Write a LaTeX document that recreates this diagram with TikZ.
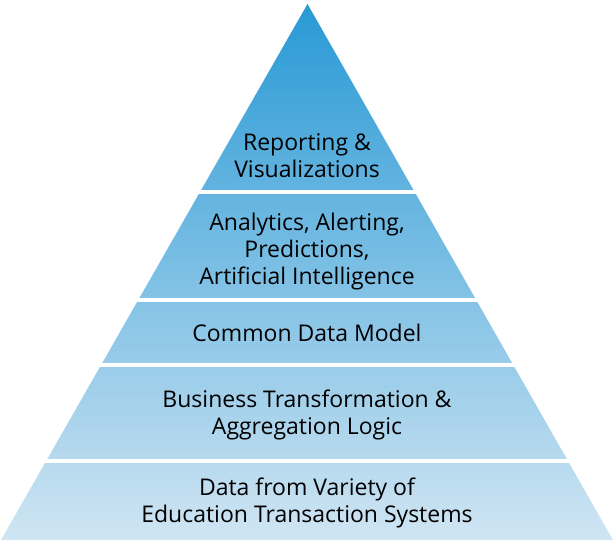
\documentclass[tikz,border=0pt]{standalone}
\usepackage{fontspec}
\setmainfont{Open Sans}
\definecolor{ctop}{RGB}{40,153,213}
\definecolor{cmid}{RGB}{164,210,235}
\definecolor{cbot}{RGB}{208,229,243}
\tikzset{
  lbl/.style={align=center, text=black, font=\fontsize{23}{27}\selectfont, inner sep=0pt},
  gap/.style={fill=white, draw=none}
}
\begin{document}
\begin{tikzpicture}[x=1pt,y=-1pt]
\useasboundingbox (0,0) rectangle (613,542);
\shade[top color=ctop, middle color=cmid, bottom color=cbot] (307.5,4) -- (613,540) -- (1,540) -- cycle;
\fill[gap] (0,190) rectangle (613,194);
\fill[gap] (0,298) rectangle (613,302);
\fill[gap] (0,363) rectangle (613,367);
\fill[gap] (0,459) rectangle (613,463);
\node[lbl] (l1) at (307,156) {Reporting \&\\Visualizations};
\node[lbl] (l2) at (307,252) {Analytics, Alerting,\\Predictions,\\Artificial Intelligence};
\node[lbl] (l3) at (307,333) {Common Data Model};
\node[lbl] (l4) at (307,415) {Business Transformation \&\\Aggregation Logic};
\node[lbl] (l5) at (307,503) {Data from Variety of\\Education Transaction Systems};
\end{tikzpicture}
\end{document}
